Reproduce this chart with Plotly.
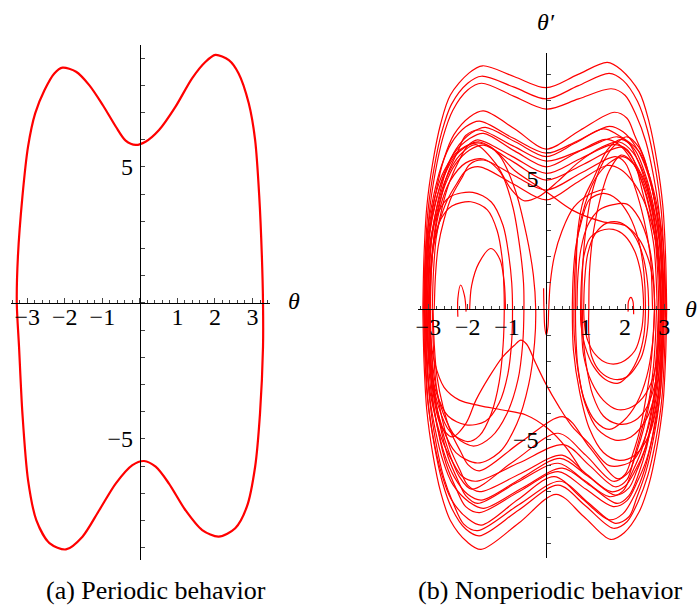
import plotly.graph_objects as go

# ---------------- (a) periodic orbit: theta, theta' ----------------
a_upper_theta = [-3.28, -3.25, -3.13, -2.98, -2.79, -2.54, -2.28, -2.06, -1.70, -1.35, -0.99, -0.64,
                 -0.38, -0.11, 0.15, 0.51, 0.95, 1.39, 1.75, 2.01, 2.37, 2.63, 2.90, 3.07, 3.18, 3.25, 3.28]
a_upper_omega = [0, 1.70, 3.91, 5.75, 6.97, 7.83, 8.44, 8.65, 8.50, 8.01, 7.28, 6.48,
                 5.97, 5.81, 5.93, 6.36, 7.22, 8.26, 8.87, 9.12, 8.93, 8.44, 7.34, 5.99, 3.91, 1.70, 0]
a_lower_theta = [3.28, 3.20, 3.07, 2.85, 2.54, 2.10, 1.66, 1.21, 0.77, 0.42, 0.11, -0.20, -0.64,
                 -1.08, -1.53, -1.97, -2.41, -2.76, -2.98, -3.13, -3.22, -3.28]
a_lower_omega = [-1.61, -4.06, -6.02, -7.49, -8.28, -8.59, -8.35, -7.61, -6.63, -6.02, -5.81, -5.96, -6.63,
                 -7.61, -8.59, -9.06, -8.83, -7.98, -6.51, -4.06, -1.61, 0]

# ---------------- (b) nonperiodic trajectory, read as pieces (theta, theta') ----------------
b_over_top = [
    [(-3.14,0),(-3.11,2.05),(-3.04,3.91),(-2.89,5.59),(-2.69,7.08),(-2.44,8.2),(-1.97,9.04),(-1.62,9.32),(-0.81,8.9),(0,8.48),(0.78,8.97),(1.55,9.45),(1.9,9.17),(2.36,8.32),(2.61,7.18),(2.81,5.67),(2.96,3.97),(3.03,2.08),(3.06,0)],
    [(-3.11,0),(-3.08,1.96),(-3.01,3.75),(-2.86,5.35),(-2.66,6.78),(-2.41,7.85),(-2.0,8.65),(-1.65,8.92),(-0.82,8.5),(0,8.05),(0.8,8.55),(1.6,9.03),(1.95,8.76),(2.32,7.95),(2.57,6.86),(2.77,5.42),(2.92,3.79),(2.99,1.99),(3.02,0)],
    [(-3.08,0),(-3.05,1.9),(-2.98,3.63),(-2.83,5.19),(-2.63,6.57),(-2.38,7.61),(-2.0,8.39),(-1.65,8.65),(-0.82,8.15),(0,7.66),(0.82,8.05),(1.65,8.44),(2.0,8.19),(2.28,7.43),(2.53,6.41),(2.73,5.06),(2.88,3.54),(2.95,1.86),(2.98,0)],
    [(-3.05,0),(-3.02,1.67),(-2.95,3.19),(-2.8,4.55),(-2.6,5.77),(-2.35,6.68),(-1.95,7.36),(-1.6,7.59),(-0.8,6.9),(0,6.13),(0.86,6.85),(1.73,7.54),(2.05,7.31),(2.25,6.64),(2.5,5.73),(2.7,4.52),(2.85,3.17),(2.92,1.66),(2.95,0)],
    [(-3.12,0),(-3.09,1.58),(-3.02,3.02),(-2.87,4.32),(-2.67,5.47),(-2.42,6.34),(-2.05,6.98),(-1.7,7.2),(-0.85,6.55),(0,5.97),(0.8,6.45),(1.6,7.0),(1.95,6.79),(2.3,6.16),(2.55,5.32),(2.75,4.2),(2.9,2.94),(2.97,1.54),(3.0,0)],
    [(-3.0,0),(-2.97,1.53),(-2.9,2.92),(-2.75,4.18),(-2.55,5.29),(-2.3,6.12),(-1.9,6.75),(-1.55,6.96),(-0.78,6.4),(0,5.84),(0.72,6.35),(1.45,6.9),(1.8,6.69),(2.34,6.07),(2.59,5.24),(2.79,4.14),(2.94,2.9),(3.01,1.52),(3.04,0)],
    [(-2.95,0),(-2.92,1.51),(-2.85,2.88),(-2.7,4.12),(-2.5,5.21),(-2.25,6.04),(-2.05,6.65),(-1.7,6.86),(-0.85,6.25),(0,5.67),(0.9,6.1),(1.8,6.6),(2.1,6.35),(2.35,5.6),(2.55,4.7),(2.7,3.7),(2.8,2.7),(2.87,1.4),(2.9,0)],
    [(-3.07,0),(-3.04,1.48),(-2.97,2.83),(-2.82,4.04),(-2.62,5.11),(-2.37,5.92),(-1.95,6.53),(-1.6,6.73),(-0.8,6.05),(0,5.45),(0.75,5.98),(1.5,6.5),(1.85,6.3),(2.16,5.72),(2.41,4.94),(2.61,3.9),(2.76,2.73),(2.83,1.43),(2.86,0)],
    [(-2.9,0),(-2.87,1.43),(-2.8,2.72),(-2.65,3.89),(-2.45,4.92),(-2.2,5.75),(-2.0,6.25),(-1.75,6.48),(-0.87,5.85),(0,5.2),(0.85,5.75),(1.7,6.3),(2.05,6.11),(2.28,5.54),(2.53,4.79),(2.73,3.78),(2.88,2.65),(2.95,1.39),(2.98,0)],
    [(-3.02,0),(-2.99,1.38),(-2.92,2.64),(-2.77,3.77),(-2.57,4.77),(-2.32,5.53),(-1.95,6.09),(-1.6,6.28),(-0.8,5.6),(0,4.94),(0.95,5.55),(1.9,6.2),(2.2,5.77),(2.45,4.46),(2.62,3.41),(2.74,2.36),(2.79,1.24),(2.82,0)],
    [(-2.85,0),(-2.82,1.26),(-2.75,2.4),(-2.6,3.43),(-2.4,4.34),(-2.15,5.02),(-1.95,5.54),(-1.6,5.71),(-0.8,5.1),(0,4.56),(0.87,5.2),(1.75,5.84),(2.0,5.61),(2.25,4.67),(2.42,3.8),(2.55,2.92),(2.65,1.93),(2.68,1.05),(2.7,0)],
    [(-2.98,0),(-2.95,1.2),(-2.88,2.29),(-2.73,3.27),(-2.53,4.14),(-2.28,4.8),(-2.05,5.29),(-1.7,5.45),(-0.85,4.8),(0,4.18),(0.78,4.85),(1.55,5.5),(1.9,5.34),(2.22,4.84),(2.47,4.18),(2.67,3.3),(2.82,2.31),(2.89,1.21),(2.92,0)],
]
b_over_bottom = [
    [(-3.14,0),(-3.11,-2.03),(-3.04,-3.87),(-2.89,-5.53),(-2.69,-7.0),(-2.44,-8.1),(-2.01,-8.93),(-1.66,-9.21),(-0.7,-8.2),(0.25,-7.1),(0.95,-7.95),(1.63,-8.83),(1.98,-8.57),(2.36,-7.77),(2.61,-6.71),(2.81,-5.3),(2.96,-3.71),(3.03,-1.94),(3.06,0)],
    [(-3.1,0),(-3.07,-1.91),(-3.0,-3.65),(-2.85,-5.21),(-2.65,-6.6),(-2.4,-7.65),(-2.05,-8.43),(-1.7,-8.69),(-0.7,-7.7),(0.3,-6.75),(1.0,-7.55),(1.7,-8.4),(2.05,-8.15),(2.33,-7.39),(2.58,-6.38),(2.78,-5.04),(2.93,-3.53),(3.0,-1.85),(3.03,0)],
    [(-3.06,0),(-3.03,-1.87),(-2.96,-3.57),(-2.81,-5.09),(-2.61,-6.45),(-2.36,-7.47),(-2.1,-8.24),(-1.75,-8.49),(-0.7,-7.5),(0.35,-6.6),(1.05,-7.4),(1.75,-8.21),(2.1,-7.96),(2.3,-7.22),(2.53,-6.24),(2.73,-4.93),(2.88,-3.45),(2.95,-1.81),(2.98,0)],
    [(-3.12,0),(-3.09,-1.82),(-3.02,-3.48),(-2.87,-4.97),(-2.67,-6.29),(-2.42,-7.29),(-2.0,-8.03),(-1.65,-8.28),(-0.72,-7.3),(0.2,-6.42),(0.9,-7.25),(1.6,-8.08),(1.95,-7.84),(2.25,-7.11),(2.5,-6.14),(2.7,-4.85),(2.85,-3.39),(2.92,-1.78),(2.95,0)],
    [(-3.0,0),(-2.97,-1.72),(-2.9,-3.28),(-2.75,-4.68),(-2.55,-5.93),(-2.3,-6.86),(-2.05,-7.57),(-1.7,-7.8),(-0.7,-7.0),(0.3,-6.23),(1.0,-6.9),(1.7,-7.57),(2.05,-7.34),(2.3,-6.66),(2.55,-5.75),(2.75,-4.54),(2.9,-3.18),(2.97,-1.67),(3.0,0)],
    [(-3.08,0),(-3.05,-1.68),(-2.98,-3.21),(-2.83,-4.58),(-2.63,-5.81),(-2.38,-6.72),(-1.95,-7.41),(-1.6,-7.64),(-0.6,-6.85),(0.4,-6.1),(1.1,-6.75),(1.8,-7.45),(2.1,-7.15),(2.35,-6.3),(2.55,-5.3),(2.7,-4.1),(2.8,-2.9),(2.87,-1.5),(2.9,0)],
    [(-2.95,0),(-2.92,-1.64),(-2.85,-3.13),(-2.7,-4.47),(-2.5,-5.66),(-2.25,-6.56),(-2.05,-7.15),(-1.75,-7.45),(-0.75,-6.65),(0.3,-5.91),(0.95,-6.55),(1.6,-7.19),(1.95,-6.97),(2.16,-6.33),(2.41,-5.46),(2.61,-4.31),(2.76,-3.02),(2.83,-1.58),(2.86,0)],
    [(-3.04,0),(-3.01,-1.61),(-2.94,-3.07),(-2.79,-4.39),(-2.59,-5.56),(-2.34,-6.44),(-2.0,-7.1),(-1.65,-7.32),(-0.65,-6.5),(0.35,-5.72),(1.05,-6.4),(1.75,-7.13),(2.1,-6.85),(2.3,-6.2),(2.5,-5.4),(2.68,-4.28),(2.83,-2.99),(2.9,-1.57),(2.93,0)],
    [(-2.9,0),(-2.87,-1.54),(-2.8,-2.94),(-2.65,-4.2),(-2.45,-5.32),(-2.2,-6.16),(-2.0,-6.75),(-1.7,-7.0),(-0.65,-6.3),(0.4,-5.6),(1.0,-6.3),(1.65,-7.0),(2.0,-6.79),(2.27,-6.16),(2.52,-5.32),(2.72,-4.2),(2.87,-2.94),(2.94,-1.54),(2.97,0)],
    [(-3.1,0),(-3.07,-1.45),(-3.0,-2.77),(-2.85,-3.96),(-2.65,-5.02),(-2.4,-5.81),(-2.15,-6.4),(-1.8,-6.6),(-0.7,-5.9),(0.45,-5.2),(1.1,-6.0),(1.75,-6.81),(2.05,-6.54),(2.25,-5.58),(2.45,-4.49),(2.62,-3.41),(2.72,-2.25),(2.77,-1.23),(2.8,0)],
    [(-2.88,0),(-2.85,-1.36),(-2.78,-2.6),(-2.63,-3.72),(-2.43,-4.71),(-2.18,-5.46),(-2.0,-5.95),(-1.7,-6.2),(-0.65,-5.1),(0.44,-4.13),(1.1,-5.3),(1.8,-6.5),(2.1,-6.24),(2.3,-5.46),(2.48,-4.55),(2.65,-3.38),(2.77,-2.21),(2.82,-1.17),(2.85,0)],
    [(-2.98,0),(-2.95,-1.52),(-2.88,-2.9),(-2.73,-4.14),(-2.53,-5.24),(-2.22,-6.4),(-1.9,-6.9),(-0.8,-5.8),(0.3,-4.76),(1.0,-5.6),(1.7,-6.6),(2.0,-6.34),(2.2,-5.54),(2.38,-4.62),(2.53,-3.43),(2.65,-2.24),(2.71,-1.19),(2.75,0)],
]
b_left_well = [
    [(-3.05,0),(-3.02,1.5),(-2.93,2.8),(-2.75,3.7),(-2.45,4.3),(-1.87,4.47),(-1.4,4.1),(-1.1,3.2),(-0.95,2.0),(-0.88,1.0),(-0.86,0),(-0.88,-1.2),(-0.98,-2.5),(-1.2,-3.6),(-1.55,-4.3),(-2.04,-4.44),(-2.5,-4.1),(-2.8,-3.2),(-2.95,-2.1),(-3.02,-1.0),(-3.05,0)],
    [(-2.98,0),(-2.95,1.4),(-2.86,2.6),(-2.68,3.45),(-2.4,3.95),(-1.92,4.11),(-1.5,3.8),(-1.25,3.0),(-1.12,1.9),(-1.08,0.9),(-1.07,0),(-1.1,-1.4),(-1.2,-2.8),(-1.4,-4.0),(-1.7,-4.85),(-2.0,-5.08),(-2.45,-4.7),(-2.75,-3.7),(-2.92,-2.4),(-2.98,-1.1),(-2.98,0)],
    [(-3.1,0),(-3.07,1.5),(-3.0,2.9),(-2.85,4.2),(-2.6,5.3),(-2.2,6.1),(-1.7,6.4),(-1.2,5.9),(-0.8,4.6),(-0.5,2.8),(-0.33,1.3),(-0.27,0),(-0.3,-1.3),(-0.45,-2.9),(-0.75,-4.4),(-1.2,-5.5),(-1.75,-5.9),(-2.3,-5.5),(-2.65,-4.5),(-2.88,-3.1),(-3.0,-1.6),(-3.04,0)],
    [(-2.96,0),(-2.93,1.4),(-2.85,2.7),(-2.7,3.9),(-2.45,4.9),(-2.05,5.6),(-1.6,5.75),(-1.15,5.2),(-0.85,3.9),(-0.66,2.2),(-0.58,1.0),(-0.57,0),(-0.6,-1.3),(-0.72,-2.7),(-1.0,-4.0),(-1.4,-4.9),(-1.85,-5.25),(-2.3,-4.9),(-2.62,-4.0),(-2.83,-2.8),(-2.93,-1.4),(-2.96,0)],
    [(-1.95,0),(-1.9,0.9),(-1.72,1.75),(-1.41,2.32),(-1.18,1.9),(-1.07,1.0),(-1.04,0)],
]
b_right_well = [
    [(0.66,0),(0.68,1.2),(0.75,2.4),(0.9,3.4),(1.1,4.2),(1.46,4.43),(1.8,4.2),(2.1,3.6),(2.35,2.6),(2.48,1.4),(2.52,0),(2.48,-1.0),(2.35,-1.8),(2.1,-2.5),(1.83,-2.84),(1.5,-2.7),(1.2,-2.2),(0.98,-1.4),(0.88,-0.6),(0.87,0)],
    [(0.78,0),(0.8,1.2),(0.88,2.3),(1.05,3.2),(1.35,3.8),(1.7,4.0),(2.05,4.02),(2.35,3.5),(2.6,2.5),(2.72,1.3),(2.75,0),(2.7,-1.3),(2.55,-2.6),(2.3,-3.6),(1.95,-4.3),(1.6,-4.61),(1.25,-4.3),(0.95,-3.4),(0.8,-2.2),(0.75,-1.0),(0.74,0)],
    [(0.87,0),(0.89,1.0),(0.95,2.0),(1.1,2.7),(1.37,3.0),(1.7,3.05),(2.0,2.8),(2.25,2.2),(2.4,1.4),(2.46,0.6),(2.47,0),(2.42,-0.8),(2.25,-1.6),(1.9,-2.05),(1.54,-2.07),(1.25,-1.75),(1.05,-1.2),(0.97,-0.6),(0.95,0)],
    [(0.95,0),(0.97,1.0),(1.05,2.1),(1.25,2.9),(1.55,3.3),(1.88,3.31),(2.15,3.0),(2.4,2.3),(2.55,1.3),(2.6,0),(2.55,-1.0),(2.4,-1.9),(2.05,-2.6),(1.71,-2.69),(1.37,-2.4),(1.15,-1.8),(1.08,-1.0),(1.08,0)],
    [(0.74,0),(0.76,1.5),(0.8,3.0),(0.95,4.2),(1.2,5.0),(1.55,6.1),(1.9,6.5),(2.25,6.1),(2.55,5.0),(2.78,3.5),(2.92,1.8),(2.97,0),(2.92,-1.6),(2.8,-3.0),(2.55,-4.2),(2.15,-4.9),(1.75,-5.02),(1.3,-4.6),(0.98,-3.6),(0.8,-2.3),(0.71,-1.0),(0.7,0)],
    [(1.08,0),(1.1,1.5),(1.2,3.0),(1.38,4.3),(1.6,5.3),(1.9,5.9),(2.2,5.6),(2.5,4.6),(2.72,3.2),(2.85,1.6),(2.9,0),(2.85,-1.4),(2.72,-2.6),(2.45,-3.4),(2.1,-3.8),(1.8,-3.85),(1.45,-3.5),(1.15,-2.8),(0.95,-1.8),(0.9,-0.9),(0.9,0)],
    [(0.9,0),(0.92,1.5),(1.0,3.0),(1.15,4.4),(1.4,5.5),(1.75,6.3),(2.05,6.6),(2.35,6.2),(2.6,5.2),(2.8,3.7),(2.93,1.9),(2.98,0),(2.94,-1.8),(2.84,-3.4),(2.62,-4.8),(2.25,-5.6),(1.85,-5.8),(1.45,-5.5),(1.1,-4.6),(0.85,-3.2),(0.69,-1.6),(0.66,0)],
    [(0.7,0),(0.72,1.3),(0.8,2.8),(0.98,4.0),(1.25,5.0),(1.6,5.6),(1.95,5.84),(2.3,5.4),(2.58,4.4),(2.78,3.0),(2.88,1.5),(2.92,0),(2.88,-1.5),(2.76,-2.9),(2.5,-3.9),(2.15,-4.35),(1.8,-4.4),(1.45,-4.1),(1.18,-3.3),(1.0,-2.0),(0.93,-0.9),(0.92,0)],
]
b_crossings = [
    [(-3.03,0),(-3.0,1.4),(-2.93,2.7),(-2.78,3.9),(-2.55,5.0),(-2.2,5.9),(-1.8,6.3),(-1.3,5.6),(-0.9,4.6),(-0.57,4.15),(-0.2,4.3),(0.3,4.9),(0.8,5.6),(1.4,6.2),(1.85,6.4),(2.2,6.0),(2.5,5.1),(2.72,3.7),(2.86,2.2),(2.93,0)],
    [(-3.09,0),(-3.06,1.5),(-2.98,2.9),(-2.82,4.1),(-2.6,5.1),(-2.3,5.9),(-1.85,6.35),(-1.4,6.2),(-0.8,5.3),(0,4.49),(0.66,3.79),(1.42,3.35),(2.0,3.2),(2.35,2.7),(2.6,1.88),(2.72,1.0),(2.76,0)],
    [(2.86,0),(2.8,-2.5),(2.6,-4.5),(2.2,-5.8),(1.6,-6.0),(1.08,-5.15),(0.66,-4.51),(0.32,-3.74),(-0.02,-2.85),(-0.27,-2.08),(-0.5,-1.35),(-0.65,-1.19),(-0.82,-1.4),(-1.11,-1.83),(-1.45,-2.59),(-1.79,-3.49),(-2.04,-4.37),(-2.4,-4.9),(-2.7,-4.4),(-2.9,-3.0),(-3.0,-1.5),(-3.03,0)],
    [(0.9,-6.2),(0.5,-5.3),(0.03,-4.57),(-0.52,-4.06),(-1.11,-3.87),(-1.7,-3.7),(-2.21,-3.49),(-2.6,-3.0),(-2.85,-2.0),(-2.95,-1.0),(-2.98,0)],
]
b_small_loops = [
    [(-2.25,-0.3),(-2.25,0.4),(-2.18,0.92),(-2.08,0.5),(-2.04,-0.1)],
    [(-0.07,0.8),(-0.06,0),(-0.04,-0.7),(0.0,-1.0),(0.04,-0.7),(0.06,0),(0.1,1.0),(0.2,2.0),(0.4,3.0),(0.7,3.9),(1.1,4.4),(1.5,4.6)],
    [(2.08,-0.1),(2.09,0.3),(2.15,0.45),(2.2,0.3),(2.22,-0.2)],
]

# ---------------- axes / labels ----------------
x_tick_vals = [-3, -2, -1, 0, 1, 2, 3]
x_tick_text = ['\u22123', '\u22122', '\u22121', '', '1', '2', '3']
y_tick_vals = list(range(-9, 10))
y_tick_text = ['\u22125' if v == -5 else ('5' if v == 5 else '') for v in y_tick_vals]
caption_a = '(a) Periodic behavior'
caption_b = '(b) Nonperiodic behavior'

RED = '#ff0000'
FONT = 'Liberation Serif'
TICK_SIZE = 24
CAP_SIZE = 26

fig = go.Figure()
fig.add_trace(go.Scatter(
    x=a_upper_theta + a_lower_theta, y=a_upper_omega + a_lower_omega,
    mode='lines', line=dict(color=RED, width=2.2, shape='spline', smoothing=0.8),
    xaxis='x', yaxis='y', hoverinfo='skip'))

for family in [b_over_top, b_over_bottom, b_left_well, b_right_well, b_crossings, b_small_loops]:
    xs, ys = [], []
    for curve in family:
        xs += [p[0] for p in curve] + [None]
        ys += [p[1] for p in curve] + [None]
    fig.add_trace(go.Scatter(
        x=xs, y=ys, mode='lines', connectgaps=False,
        line=dict(color=RED, width=1.2, shape='spline', smoothing=0.9),
        xaxis='x2', yaxis='y2', hoverinfo='skip'))

W, H = 698, 607

def common():
    return dict(showgrid=False, zeroline=False, showline=True, linecolor='black', linewidth=1,
                ticks='inside', tickcolor='#444', tickwidth=1,
                tickfont=dict(family=FONT, size=TICK_SIZE, color='black'), fixedrange=True)

# panel (a): origin at pixel (137.5, 303); 37.7 px / unit in x, 27.2 px / unit in y
xa = common(); xa.update(domain=[8 / W, 268 / W], range=[-3.435, 3.462], anchor='free',
                         position=(H - 303) / H, tickvals=x_tick_vals, ticktext=x_tick_text, ticklen=5,
                         ticklabelstandoff=-8,
                         minor=dict(dtick=0.2, tick0=0, ticklen=3, ticks='inside', tickcolor='#444'))
ya = common(); ya.update(domain=[(H - 560) / H, (H - 45) / H], range=[-9.449, 9.485], anchor='free',
                         position=137.5 / W, tickvals=y_tick_vals, ticktext=y_tick_text, ticklen=4,
                         ticklabelstandoff=2)
# panel (b): origin at pixel (545.7, 309); 39.5 px / unit in x, 26.1 px / unit in y
xb = common(); xb.update(domain=[417 / W, 670 / W], range=[-3.258, 3.147], anchor='free',
                         position=(H - 309) / H, tickvals=x_tick_vals, ticktext=x_tick_text, ticklen=5,
                         ticklabelstandoff=-4,
                         minor=dict(dtick=0.2, tick0=0, ticklen=3, ticks='inside', tickcolor='#444'))
yb = common(); yb.update(domain=[(H - 558) / H, (H - 53) / H], range=[-9.54, 9.81], anchor='free',
                         position=545.7 / W, tickvals=y_tick_vals, ticktext=y_tick_text, ticklen=4,
                         ticklabelstandoff=3)

ann = [
    dict(x=292 / W, y=(H - 301) / H, text='<i>θ</i>', font=dict(family=FONT, size=TICK_SIZE, color='black')),
    dict(x=691 / W, y=(H - 309) / H, text='<i>θ</i>', font=dict(family=FONT, size=TICK_SIZE, color='black')),
    dict(x=545 / W, y=(H - 22) / H, text='<i>θ′</i>', font=dict(family=FONT, size=TICK_SIZE, color='black')),
    dict(x=153.5 / W, y=(H - 590) / H, text=caption_a, font=dict(family=FONT, size=CAP_SIZE, color='black')),
    dict(x=415 / W, y=(H - 590) / H, text=caption_b, xanchor='left', font=dict(family=FONT, size=CAP_SIZE, color='black')),
]
for a in ann:
    a.update(xref='paper', yref='paper', showarrow=False)
    a.setdefault('xanchor', 'center')
    a['yanchor'] = 'middle'

fig.update_layout(
    width=W, height=H, margin=dict(l=0, r=0, t=0, b=0),
    paper_bgcolor='white', plot_bgcolor='white', showlegend=False,
    xaxis=xa, yaxis=ya, xaxis2=xb, yaxis2=yb, annotations=ann,
)
fig.write_html('out.html')
